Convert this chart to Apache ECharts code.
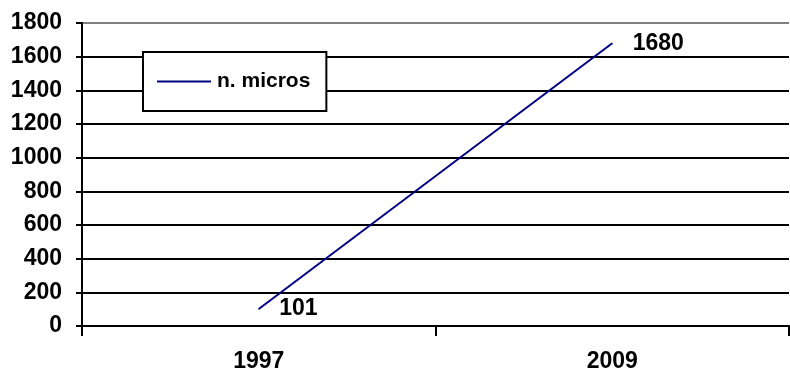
<!DOCTYPE html>
<html>
<head>
<meta charset="utf-8">
<script src="https://cdn.jsdelivr.net/npm/echarts@6/dist/echarts.min.js"></script>
<style>
html,body{margin:0;padding:0;background:#fff;}
#chart{width:790px;height:373px;}
</style>
</head>
<body>
<div id="chart"></div>
<script>
const categories = ['1997', '2009'];
const seriesName = 'n. micros';
const values = [101, 1680];
const yTicks = [0, 200, 400, 600, 800, 1000, 1200, 1400, 1600, 1800];

const font = 'Liberation Sans, Arial, sans-serif';
const splitColors = yTicks.map((t, i) => i === yTicks.length - 1 ? '#808080' : '#000000');

const chart = echarts.init(document.getElementById('chart'), null, {renderer: 'canvas'});
chart.setOption({
  animation: false,
  backgroundColor: '#ffffff',
  grid: {left: 82, right: 1, top: 23, bottom: 46, containLabel: false},
  legend: {
    data: [{name: seriesName, icon: 'rect'}],
    left: 143, top: 52,
    orient: 'vertical',
    backgroundColor: '#ffffff',
    borderColor: '#000000',
    borderWidth: 2,
    borderRadius: 0,
    padding: [19, 16, 19, 14],
    itemWidth: 54, itemHeight: 2, itemGap: 0,
    itemStyle: {color: '#000080', opacity: 1},
    textStyle: {fontFamily: font, fontWeight: 'bold', fontSize: 21, color: '#000', padding: [0, 0, 0, 1]}
  },
  xAxis: {
    type: 'category',
    data: categories,
    boundaryGap: true,
    axisLine: {show: true, lineStyle: {color: '#000', width: 2}},
    axisTick: {show: true, length: 10, alignWithLabel: false, lineStyle: {color: '#000', width: 2}},
    axisLabel: {margin: 24, fontFamily: font, fontWeight: 'bold', fontSize: 23, color: '#000'},
    splitLine: {show: false}
  },
  yAxis: {
    type: 'value',
    min: yTicks[0], max: yTicks[yTicks.length - 1], interval: 200,
    axisLine: {show: true, lineStyle: {color: '#000', width: 2}},
    axisTick: {show: true, length: 6, lineStyle: {color: '#000', width: 2}},
    axisLabel: {margin: 20, fontFamily: font, fontWeight: 'bold', fontSize: 23, color: '#000',
      formatter: v => String(v)},
    splitLine: {show: true, lineStyle: {color: splitColors, width: 2}}
  },
  series: [{
    name: seriesName,
    type: 'line',
    data: values,
    symbol: 'circle',
    symbolSize: 1,
    showSymbol: true,
    lineStyle: {color: '#000080', width: 2},
    itemStyle: {color: '#000080'},
    label: {
      show: true, position: 'right', distance: 20,
      fontFamily: font, fontWeight: 'bold', fontSize: 23, color: '#000'
    }
  }]
});
</script>
</body>
</html>
